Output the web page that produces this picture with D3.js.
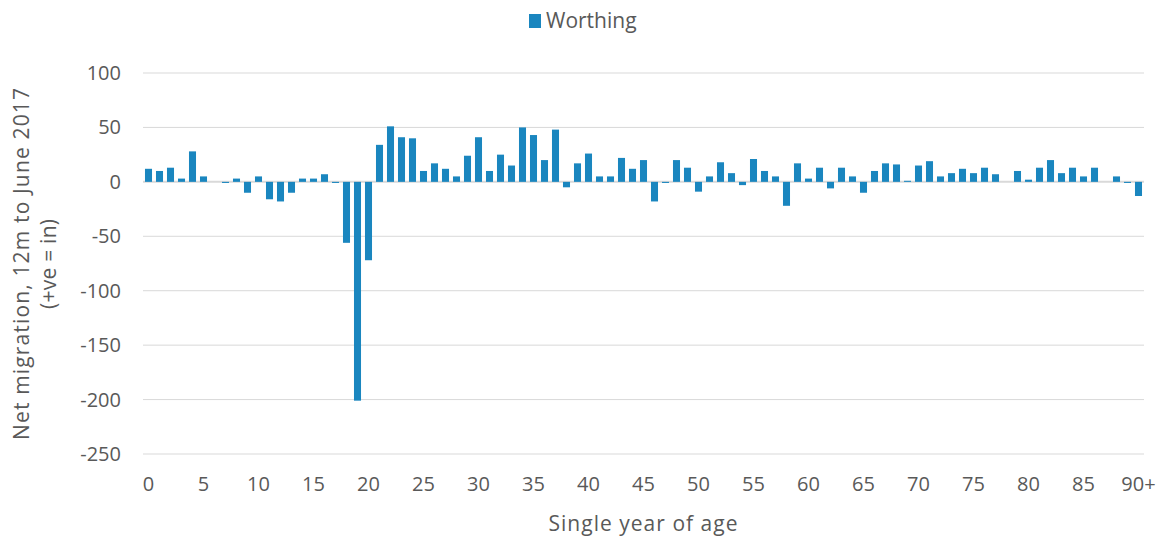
<!DOCTYPE html>
<html>
<head>
<meta charset="utf-8">
<script src="https://cdn.jsdelivr.net/npm/d3@7"></script>
<style>
  body { margin: 0; background: #fff; }
  text { font-family: "Open Sans", "Noto Sans", sans-serif; fill: #595959; }
</style>
</head>
<body>
<svg id="chart" width="1162" height="536"></svg>
<script>
// ages 0..89 plus 90+
var ages = d3.range(0, 90).map(String).concat(['90+'])
var netMigration = [
  12, 10, 13, 3, 28, 5, 0, -1, 3, -10,
  5, -16, -18, -10, 3, 3, 7, -1, -56, -201,
  -72, 34, 51, 41, 40, 10, 17, 12, 5, 24,
  41, 10, 25, 15, 50, 43, 20, 48, -5, 17,
  26, 5, 5, 22, 12, 20, -18, -1, 20, 13,
  -9, 5, 18, 8, -3, 21, 10, 5, -22, 17,
  3, 13, -6, 13, 5, -10, 10, 17, 16, 1,
  15, 19, 5, 8, 12, 8, 13, 7, 0, 10,
  2, 13, 20, 8, 13, 5, 13, 0, 5, -1,
  -13
]
var yTicks = [100, 50, 0, -50, -100, -150, -200, -250]
var xTickLabels = ['0','5','10','15','20','25','30','35','40','45','50','55','60','65','70','75','80','85','90+']

var svg = d3.select('#chart')
var margin = {top: 73, right: 18, bottom: 82, left: 143}
var width = 1162 - margin.left - margin.right
var height = 536 - margin.top - margin.bottom

var x = d3.scaleBand()
  .domain(ages)
  .range([0, width])
  .paddingInner(0.36)
  .paddingOuter(0.18)

var y = d3.scaleLinear()
  .domain([-250, 100])
  .range([height, 0])

var g = svg.append('g')
  .attr('transform', 'translate(' + margin.left + ',' + margin.top + ')')

// gridlines
g.selectAll('.grid')
  .data(yTicks)
  .enter().append('line')
  .attr('class', 'grid')
  .attr('x1', 0).attr('x2', width)
  .attr('y1', function(d){ return y(d) }).attr('y2', function(d){ return y(d) })
  .style('stroke', '#d9d9d9')
  .style('stroke-width', function(d){ return d == 0 ? 2 : 1 })

// y tick labels
g.selectAll('.ylab')
  .data(yTicks)
  .enter().append('text')
  .attr('x', -22)
  .attr('y', function(d){ return y(d) })
  .attr('dy', '0.35em')
  .attr('text-anchor', 'end')
  .style('font-size', '20px')
  .text(function(d){ return d })

// bars
g.selectAll('.bar')
  .data(netMigration)
  .enter().append('rect')
  .attr('class', 'bar')
  .attr('x', function(d, i){ return x(ages[i]) })
  .attr('width', x.bandwidth())
  .attr('y', function(d){ return y(Math.max(0, d)) })
  .attr('height', function(d){ return Math.abs(y(d) - y(0)) })
  .style('fill', '#1a86bf')

// x tick labels
g.selectAll('.xlab')
  .data(xTickLabels)
  .enter().append('text')
  .attr('x', function(d){ return x(d) + x.bandwidth() / 2 })
  .attr('y', height + 37)
  .attr('text-anchor', 'middle')
  .style('font-size', '20px')
  .text(function(d){ return d })

// axis titles
svg.append('text')
  .attr('x', 643)
  .attr('y', 531)
  .attr('text-anchor', 'middle')
  .attr('textLength', 189)
  .attr('lengthAdjust', 'spacing')
  .style('font-size', '21px')
  .text('Single year of age')

var yt = svg.append('text')
  .attr('transform', 'translate(29,' + 264 + ') rotate(-90)')
  .attr('text-anchor', 'middle')
  .style('font-size', '21px')
yt.append('tspan').attr('x', 0).attr('dy', 0)
  .attr('textLength', 352).attr('lengthAdjust', 'spacing')
  .text('Net migration, 12m to June 2017')
yt.append('tspan').attr('x', 0).attr('dy', 27)
  .attr('textLength', 90).attr('lengthAdjust', 'spacing')
  .text('(+ve = in)')

// legend
var legend = svg.append('g').attr('transform', 'translate(529,14)')
legend.append('rect')
  .attr('width', 12).attr('height', 14)
  .style('fill', '#1a86bf')
legend.append('text')
  .attr('x', 17).attr('y', 14)
  .style('font-size', '21px')
  .text('Worthing')
</script>
</body>
</html>
